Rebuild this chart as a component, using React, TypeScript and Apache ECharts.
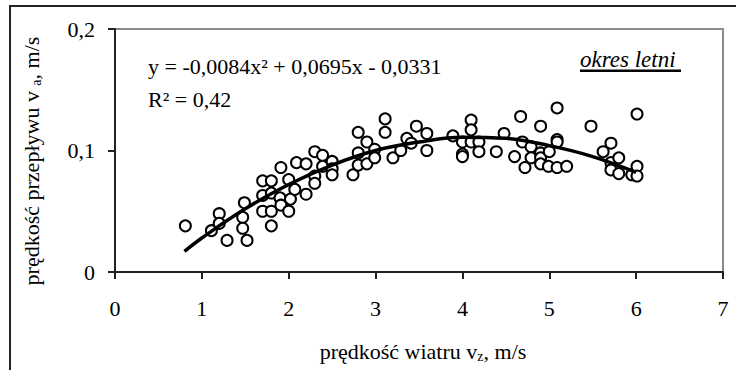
import React, { useEffect, useRef } from "react";
import * as echarts from "echarts";

// wind speed v_z [m/s] of each observation
const windX: number[] = [
  0.81, 1.11, 1.2, 1.2, 1.29, 1.49, 1.47, 1.47, 1.52, 1.7,
  1.8, 1.7, 1.8, 1.7, 1.8, 1.8, 1.91, 1.9, 1.91, 2.0,
  2.02, 2.0, 2.07, 2.09, 2.2, 2.2, 2.3, 2.3, 2.3, 2.39,
  2.39, 2.5, 2.5, 2.5, 2.74, 2.8, 2.8, 2.8, 2.9, 2.9,
  2.99, 2.99, 3.11, 3.11, 3.2, 3.29, 3.36, 3.41, 3.47, 3.59,
  3.59, 3.89, 4.0, 4.0, 4.0, 4.1, 4.1, 4.1, 4.19, 4.19,
  4.39, 4.48, 4.6, 4.67, 4.69, 4.72, 4.79, 4.79, 4.9, 4.9,
  4.9, 4.9, 5.0, 4.99, 5.09, 5.09, 5.09, 5.09, 5.2, 5.48,
  5.62, 5.71, 5.71, 5.71, 5.8, 5.8, 5.95, 6.01, 6.01, 6.01,
];
// flow speed v_a [m/s] of each observation
const flowVa: number[] = [
  0.038, 0.034, 0.048, 0.04, 0.026, 0.057, 0.045, 0.036, 0.026, 0.075,
  0.075, 0.063, 0.065, 0.05, 0.05, 0.038, 0.086, 0.061, 0.055, 0.076,
  0.06, 0.05, 0.068, 0.09, 0.089, 0.064, 0.099, 0.079, 0.073, 0.096,
  0.087, 0.091, 0.085, 0.08, 0.08, 0.115, 0.098, 0.088, 0.107, 0.089,
  0.101, 0.094, 0.126, 0.115, 0.094, 0.1, 0.11, 0.106, 0.12, 0.114,
  0.1, 0.112, 0.107, 0.097, 0.095, 0.125, 0.117, 0.107, 0.107, 0.099,
  0.099, 0.114, 0.095, 0.128, 0.107, 0.086, 0.103, 0.094, 0.12, 0.098,
  0.094, 0.089, 0.099, 0.087, 0.135, 0.109, 0.107, 0.086, 0.087, 0.12,
  0.099, 0.106, 0.09, 0.084, 0.094, 0.081, 0.08, 0.13, 0.087, 0.079,
];

// trend line
const trendX: number[] = [0.8, 1.0, 1.5, 2.0, 2.5, 3.0, 3.5, 4.0, 4.5, 5.0, 5.5, 6.0];
const trendY: number[] = [0.017, 0.028, 0.052, 0.072, 0.088, 0.1, 0.107, 0.111, 0.11, 0.104, 0.095, 0.082];

const yTickLabels: string[] = ["0", "0,1", "0,2"];
const xTickLabels: string[] = ["0", "1", "2", "3", "4", "5", "6", "7"];

const FONT = "Liberation Serif";

export default function App() {
  const ref = useRef<HTMLDivElement>(null);

  useEffect(() => {
    if (!ref.current) return;
    const chart = echarts.init(ref.current, undefined, { renderer: "svg" });
    const scatterData = windX.map((x, i) => [x, flowVa[i]]);
    const trendData = trendX.map((x, i) => [x, trendY[i]]);
    const axisColor = "#222";

    const txt = (size: number, extra: any = {}) => ({
      fontFamily: FONT,
      fontSize: size,
      fill: "#000",
      ...extra,
    });

    chart.setOption({
      animation: false,
      backgroundColor: "#fff",
      textStyle: { fontFamily: FONT, color: "#000" },
      grid: {
        left: 115,
        top: 29,
        right: 13,
        bottom: 98,
        show: true,
        borderColor: "#8a8a8a",
        borderWidth: 2,
        backgroundColor: "#fff",
      },
      xAxis: {
        type: "value",
        min: 0,
        max: 7,
        interval: 1,
        axisLine: { show: true, onZero: false, lineStyle: { color: axisColor, width: 2 } },
        axisTick: { show: true, inside: false, length: 7, lineStyle: { color: axisColor, width: 2 } },
        splitLine: { show: false },
        axisLabel: {
          margin: 25,
          fontFamily: FONT,
          fontSize: 22,
          color: "#000",
          formatter: (v: number) => xTickLabels[Math.round(v)] ?? String(v),
        },
      },
      yAxis: {
        type: "value",
        min: 0,
        max: 0.2,
        interval: 0.1,
        axisLine: { show: true, onZero: false, lineStyle: { color: axisColor, width: 2 } },
        axisTick: { show: true, inside: false, length: 7, lineStyle: { color: axisColor, width: 2 } },
        splitLine: { show: false },
        axisLabel: {
          margin: 20,
          fontFamily: FONT,
          fontSize: 22,
          color: "#000",
          formatter: (v: number) => yTickLabels[Math.round(v / 0.1)] ?? String(v),
        },
      },
      series: [
        {
          type: "scatter",
          data: scatterData,
          symbol: "circle",
          symbolSize: 11,
          itemStyle: { color: "#fff", borderColor: "#000", borderWidth: 2, opacity: 1 },
          z: 2,
        },
        {
          type: "line",
          data: trendData,
          smooth: 0.4,
          showSymbol: false,
          symbol: "none",
          lineStyle: { color: "#000", width: 3.5 },
          z: 3,
        },
      ],
      graphic: [
        {
          type: "rect",
          shape: { x: 10, y: 6, width: 900, height: 500 },
          style: { fill: "none", stroke: "#222", lineWidth: 2 },
          z: 100,
          silent: true,
        },
        {
          type: "text",
          x: 148,
          y: 66,
          style: txt(22, { text: "y = -0,0084x² + 0,0695x - 0,0331", verticalAlign: "middle" }),
          z: 100,
        },
        {
          type: "text",
          x: 148,
          y: 99,
          style: txt(22, { text: "R² = 0,42", verticalAlign: "middle" }),
          z: 100,
        },
        {
          type: "text",
          x: 580,
          y: 59.5,
          style: txt(23, { text: "okres letni", fontStyle: "italic", verticalAlign: "middle" }),
          z: 100,
        },
        {
          type: "rect",
          shape: { x: 580, y: 69.5, width: 101, height: 2.6 },
          style: { fill: "#000" },
          z: 100,
        },
        {
          type: "text",
          x: 423,
          y: 351,
          style: txt(22, {
            text: "prędkość wiatru v{sub|z}, m/s",
            align: "center",
            verticalAlign: "middle",
            rich: {
              sub: { fontSize: 14, fontFamily: FONT, verticalAlign: "bottom", padding: [10, 0, 0, 0] },
            },
          }),
          z: 100,
        },
        {
          type: "text",
          x: 31,
          y: 161,
          rotation: Math.PI / 2,
          style: txt(22, {
            text: "prędkość przepływu v {sub|a}, m/s",
            align: "center",
            verticalAlign: "middle",
            rich: {
              sub: { fontSize: 14, fontFamily: FONT, verticalAlign: "bottom", padding: [10, 0, 0, 0] },
            },
          }),
          z: 100,
        },
      ],
    });

    return () => chart.dispose();
  }, []);

  return (
    <div
      ref={ref}
      style={{ position: "absolute", left: 0, top: 0, width: 736, height: 370 }}
    />
  );
}
